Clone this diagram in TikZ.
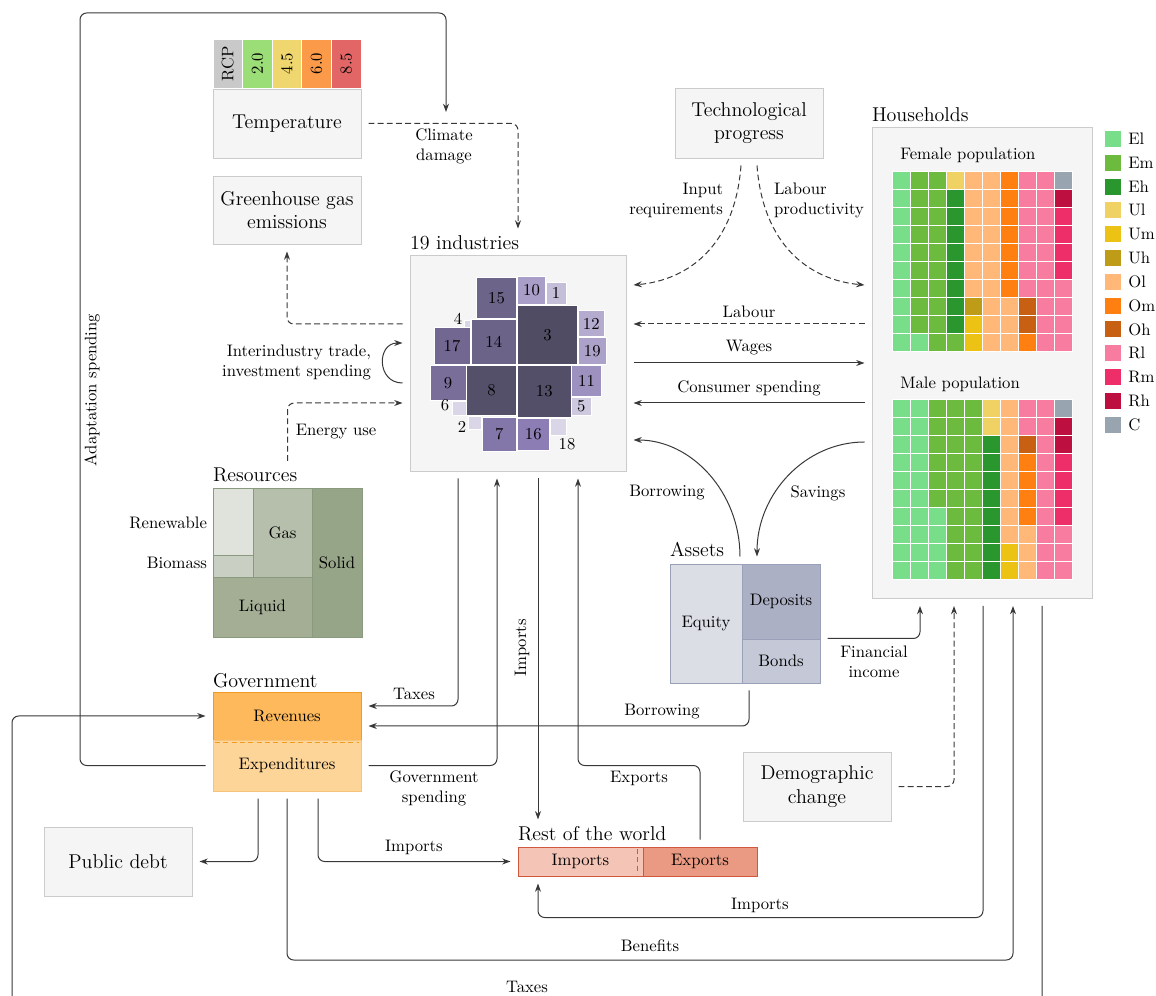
\documentclass[tikz,border=0pt]{standalone}
\usepackage{amsmath}
\usepackage{xcolor}
\usepackage{tikz}
\usetikzlibrary{arrows.meta,calc,positioning}

\definecolor{boxfill}{HTML}{F5F5F5}
\definecolor{boxline}{HTML}{CBCBCB}
\definecolor{flowcol}{HTML}{383838}
\definecolor{rcp0}{HTML}{C9C9C9}
\definecolor{rcp1}{HTML}{9BDD76}
\definecolor{rcp2}{HTML}{F0D66E}
\definecolor{rcp3}{HTML}{FB9B4A}
\definecolor{rcp4}{HTML}{E26666}
\definecolor{indA}{HTML}{504C64}
\definecolor{indB}{HTML}{8C7EB4}
\definecolor{resline}{HTML}{8A9A7E}
\definecolor{resren}{HTML}{DFE3DC}
\definecolor{resbio}{HTML}{C9D0C3}
\definecolor{resgas}{HTML}{B5BFAB}
\definecolor{resliq}{HTML}{A3AE95}
\definecolor{ressol}{HTML}{96A588}
\definecolor{assline}{HTML}{9AA0B8}
\definecolor{assequ}{HTML}{DCDEE6}
\definecolor{assdep}{HTML}{ABB0C5}
\definecolor{assbon}{HTML}{C5C9D7}
\definecolor{govline}{HTML}{F29A22}
\definecolor{govrev}{HTML}{FDB95B}
\definecolor{govexp}{HTML}{FDD598}
\definecolor{rowline}{HTML}{D0583E}
\definecolor{rowimp}{HTML}{F4C4B6}
\definecolor{rowexp}{HTML}{EA9A82}
\definecolor{cEl}{HTML}{78DE8A}
\definecolor{cEm}{HTML}{6CBA3E}
\definecolor{cEh}{HTML}{2A962E}
\definecolor{cUl}{HTML}{F0D264}
\definecolor{cUm}{HTML}{ECC214}
\definecolor{cUh}{HTML}{BE9C18}
\definecolor{cOl}{HTML}{FFB878}
\definecolor{cOm}{HTML}{FF7F10}
\definecolor{cOh}{HTML}{C86014}
\definecolor{cRl}{HTML}{F87CA0}
\definecolor{cRm}{HTML}{EE2E68}
\definecolor{cRh}{HTML}{BE1040}
\definecolor{cC}{HTML}{98A4B0}

\begin{document}
\begin{tikzpicture}[x=0.6pt,y=-0.6pt,
		box/.style={draw=boxline,fill=boxfill,font=\large,align=center,inner sep=0pt,outer sep=4.5pt},
		part/.style={align=center,inner sep=0pt,outer sep=4.5pt},
		ttl/.style={font=\large,anchor=base west,inner sep=0pt,outer xsep=0pt,outer ysep=4.5pt},
		lbl/.style={align=center,inner sep=1pt},
		cell/.style={draw=white,line width=0.5pt},
		flow/.style={draw=flowcol,line width=0.6pt,rounded corners=4pt,-{Stealth[length=5pt,width=3.6pt]}},
		dflow/.style={flow,dash pattern=on 3.5pt off 2pt}]

		\useasboundingbox (0,0) rectangle (1156,996);

		\foreach \lab/\col [count=\i] in {RCP/rcp0,2.0/rcp1,4.5/rcp2,6.0/rcp3,8.5/rcp4}
			\node[cell,fill=\col,rotate=90,minimum width=29.4pt,minimum height=17.8pt,inner sep=0pt] (rcp\i) at ({213+29.6*(\i-0.5)},63.5) {\lab};
		\node[box,minimum width=88.8pt,minimum height=41.4pt] (temp) at (287,123.5) {Temperature};
		\node[box,minimum width=88.8pt,minimum height=40.8pt] (ghg) at (287,210) {Greenhouse gas\\emissions};
		\node[box,minimum width=88.8pt,minimum height=42pt] (tech) at (749,123) {Technological\\progress};
		\node[box,minimum width=129.6pt,minimum height=129.6pt] (ind) at (518,363) {};
		\node[box,minimum width=132pt,minimum height=282.6pt] (hh) at (982,363) {};
		\node[box,minimum width=88.8pt,minimum height=41.4pt] (debt) at (118,861.5) {Public debt};
		\node[box,minimum width=88.8pt,minimum height=41.4pt] (demo) at (817,786.5) {Demographic\\change};

		\node[ttl] (indttl) at (410,250) {19 industries};
		\foreach \xa/\ya/\xb/\yb/\lab/\col in {476.5/277/516.5/318.5/15/indA!52!indB, 517.5/276.5/545.5/304/10/indB!75!white, 546/282.5/566/304/1/indB!50!white, 517.5/305/577.5/364.5/3/indA, 578.5/310.5/604/336.5/12/indB!65!white, 578.5/337.5/606/364.5/19/indB!72!white, 471/319.5/516.5/364.5/14/indA!55!indB, 434/327.5/470/364.5/17/indA!45!indB, 430/365.5/466/400/9/indA!32!indB, 466.5/365.5/516.5/415.5/8/indA!92!indB, 517.5/365.5/571/417.5/13/indA!95!indB, 571.5/365.5/601.5/396/11/indB!85!white, 571.5/397/591/415.5/5/indB!42!white, 482/417/516.5/451/7/indA!15!indB, 517.5/418.5/549/450/16/indB}
		{
			\filldraw[cell,fill=\col] (\xa,\ya) rectangle (\xb,\yb);
			\node (ind\lab) at ({(\xa+\xb)/2},{(\ya+\yb)/2}) {\lab};
		}
		\foreach \xa/\ya/\xb/\yb/\lab/\lx/\ly in {464/320/470.5/327.5/4/458/319, 452.5/401.5/466/415.5/6/445/405, 468.5/416.5/481.5/429/2/462/427, 550/418.5/566.5/435/18/567/444}
		{
			\filldraw[cell,fill=indB!32!white] (\xa,\ya) rectangle (\xb,\yb);
			\node (ind\lab) at (\lx,\ly) {\lab};
		}

		\node[ttl] (hhttl) at (872,122) {Households};
		\node[anchor=base west,inner sep=0pt] (lfem) at (900,160) {Female population};
		\foreach \hrow [count=\hr] in {{El,Em,Em,Ul,Ol,Ol,Om,Rl,Rl,C},{El,Em,Em,Eh,Ol,Ol,Om,Rl,Rl,Rh},{El,Em,Em,Eh,Ol,Ol,Om,Rl,Rl,Rm},{El,Em,Em,Eh,Ol,Ol,Om,Rl,Rl,Rm},{El,Em,Em,Eh,Ol,Ol,Om,Rl,Rl,Rm},{El,Em,Em,Eh,Ol,Ol,Om,Rl,Rl,Rm},{El,Em,Em,Eh,Ol,Ol,Om,Rl,Rl,Rl},{El,Em,Em,Eh,Uh,Ol,Ol,Oh,Rl,Rl},{El,Em,Em,Eh,Um,Ol,Ol,Oh,Rl,Rl},{El,El,Em,Em,Um,Ol,Ol,Om,Rl,Rl}}
			\foreach \hc [count=\hk] in \hrow
				\filldraw[cell,fill=c\hc] ({892+18*(\hk-1)},{171+18*(\hr-1)}) rectangle +(18,18);
		\node[anchor=base west,inner sep=0pt] (lmale) at (900,389) {Male population};
		\foreach \hrow [count=\hr] in {{El,El,Em,Em,Em,Ul,Ol,Rl,Rl,C},{El,El,Em,Em,Em,Ul,Ol,Rl,Rl,Rh},{El,El,Em,Em,Em,Eh,Ol,Oh,Rl,Rh},{El,El,Em,Em,Em,Eh,Ol,Om,Rl,Rm},{El,El,Em,Em,Em,Eh,Ol,Om,Rl,Rm},{El,El,Em,Em,Em,Eh,Ol,Om,Rl,Rm},{El,El,El,Em,Em,Eh,Ol,Om,Rl,Rm},{El,El,El,Em,Em,Eh,Ol,Ol,Rl,Rl},{El,El,El,Em,Em,Eh,Um,Ol,Rl,Rl},{El,El,El,Em,Em,Eh,Um,Ol,Rl,Rl}}
			\foreach \hc [count=\hk] in \hrow
				\filldraw[cell,fill=c\hc] ({892+18*(\hk-1)},{399+18*(\hr-1)}) rectangle +(18,18);
		\foreach \hc [count=\i] in {El,Em,Eh,Ul,Um,Uh,Ol,Om,Oh,Rl,Rm,Rh,C}
		{
			\fill[c\hc] (1105,{131+23.8*(\i-1)}) rectangle +(16,16);
			\node[anchor=west,inner sep=0pt] (leg\hc) at (1128,{139+23.8*(\i-1)}) {\hc};
		}

		\node[ttl] (resttl) at (213,482) {Resources};
		\node[part,minimum width=89.4pt,minimum height=89.4pt] (res) at (287.5,562.5) {};
		\node[part,draw=resline,fill=resren,minimum width=24pt,minimum height=40.2pt] (ren) at (233,521.5) {};
		\node[part,draw=resline,fill=resbio,minimum width=24pt,minimum height=13.2pt] (bio) at (233,566) {};
		\node[part,draw=resline,fill=resgas,minimum width=35.4pt,minimum height=53.4pt] (gas) at (282.5,532.5) {Gas};
		\node[part,draw=resline,fill=resliq,minimum width=59.4pt,minimum height=36pt] (liq) at (262.5,607) {Liquid};
		\node[part,draw=resline,fill=ressol,minimum width=30pt,minimum height=89.4pt] (sol) at (337,562.5) {Solid};
		\node[lbl,anchor=east] (lren) at (209,523) {Renewable};
		\node[lbl,anchor=east] (lbio) at (209,563) {Biomass};

		\node[ttl] (assttl) at (670,557) {Assets};
		\node[part,minimum width=90pt,minimum height=71.4pt] (assets) at (745,623.5) {};
		\node[part,draw=assline,fill=assequ,minimum width=43.2pt,minimum height=71.4pt] (equ) at (706,623.5) {Equity};
		\node[part,draw=assline,fill=assdep,minimum width=46.8pt,minimum height=45pt] (dep) at (781,601.5) {Deposits};
		\node[part,draw=assline,fill=assbon,minimum width=46.8pt,minimum height=26.4pt] (bon) at (781,661) {Bonds};

		\node[ttl] (govttl) at (213,687) {Government};
		\node[part,draw=govline,fill=govrev,minimum width=88.8pt,minimum height=28.8pt] (grev) at (287,716) {Revenues};
		\node[part,draw=govline!60,fill=govexp,minimum width=88.8pt,minimum height=30.6pt] (gexp) at (287,765.5) {Expenditures};
		\draw[govline,dash pattern=on 3pt off 2pt] (215,742.5) -- (359,742.5);

		\node[ttl] (rowttl) at (518,841) {Rest of the world};
		\node[part,draw=rowline,fill=rowimp,minimum width=75pt,minimum height=17.4pt] (wimp) at (580.5,861.5) {Imports};
		\node[part,draw=rowline,fill=rowexp,minimum width=68.4pt,minimum height=17.4pt] (wexp) at (700,861.5) {Exports};
		\draw[rowline,dash pattern=on 3pt off 2pt] (637,849) -- (637,874);

		\node[lbl] (lclim) at (444,146) {Climate\\damage};
		\node[lbl,anchor=east,align=right] (linput) at (725,200) {Input\\requirements};
		\node[lbl,anchor=west,align=left] (lprod) at (772,200) {Labour\\productivity};
		\node[lbl] (llab) at (749,312) {Labour};
		\node[lbl] (lwage) at (749,348) {Wages};
		\node[lbl] (lcons) at (749,388) {Consumer spending};
		\node[lbl,anchor=east,align=right] (linter) at (373,362) {Interindustry trade,\\investment spending};
		\node[lbl] (lenergy) at (336,432) {Energy use};
		\node[lbl] (lborr) at (667,493) {Borrowing};
		\node[lbl] (lsav) at (818,493) {Savings};
		\node[lbl,rotate=90] (limpv) at (522,648) {Imports};
		\node[lbl] (lfin) at (874,662) {Financial\\income};
		\node[lbl] (ltax) at (414,694) {Taxes};
		\node[lbl] (lgborr) at (662,712) {Borrowing};
		\node[lbl] (lgovsp) at (434,788) {Government\\spending};
		\node[lbl] (lexp) at (639,778) {Exports};
		\node[lbl] (lgimp) at (414,847) {Imports};
		\node[lbl] (lhimp) at (760,905) {Imports};
		\node[lbl] (lben) at (650,946) {Benefits};
		\node[lbl] (lhtax) at (527,987) {Taxes};
		\node[lbl,rotate=90] (ladapt) at (92,390) {Adaptation spending};

		\coordinate (imp) at ($(ind.south)+(20,0)$);
		\coordinate (adapt) at (446,112);

		\draw[dflow] (temp.east) -| (ind.north |- indttl.north);
		\draw[flow] (gexp.west) -| (80,13) -| (adapt);
		\draw[dflow] ($(ind.west)+(0,-39)$) -| (ghg.south);
		\draw[flow] ($(ind.west)+(0,20)$) .. controls +(-26,0) and +(-26,0) .. ($(ind.west)+(0,-20)$);
		\draw[dflow] (res.north |- resttl.north) |- ($(ind.west)+(0,40)$);
		\draw[dflow] ($(tech.south)+(-8,0)$) .. controls +(-6,80) and +(55,-5) .. ($(ind.east)+(0,-78)$);
		\draw[dflow] ($(tech.south)+(8,0)$) .. controls +(6,80) and +(-55,-5) .. ($(hh.west)+(0,-78)$);
		\draw[dflow] ($(hh.west)+(0,-39)$) -- ($(ind.east)+(0,-39)$);
		\draw[flow] (ind.east) -- (hh.west);
		\draw[flow] ($(hh.west)+(0,40)$) -- ($(ind.east)+(0,40)$);
		\draw[flow] ($(assets.north)+(-5,0)$) .. controls +(0,-64) and +(58,0) .. ($(ind.east)+(0,77)$);
		\draw[flow] ($(hh.west)+(0,79)$) .. controls +(-59,0) and +(0,-63) .. ($(assets.north)+(12,0)$);
		\draw[flow] ($(ind.south)+(-60,0)$) |- ($(grev.east)+(0,-10)$);
		\draw[flow] (gexp.east) -| ($(ind.south)+(-21,0)$);
		\draw[flow] (imp) -- (imp |- rowttl.north);
		\draw[flow] (wexp.north) |- ($(gexp.east -| ind.south)+(60,0)$) -- ($(ind.south)+(60,0)$);
		\draw[flow] ($(assets.east)+(0,15)$) -| ($(hh.south)+(-62,0)$);
		\draw[flow] ($(assets.south)+(4,0)$) |- ($(grev.east)+(0,10)$);
		\draw[dflow] (demo.east) -| ($(hh.south)+(-28,0)$);
		\draw[flow] ($(hh.south)+(1,0)$) |- ($(imp |- wimp.south)+(0,34)$) -- (imp |- wimp.south);
		\draw[flow] (gexp.south) |- (1013,960) -- ($(hh.south)+(31,0)$);
		\draw[flow] ($(hh.south)+(60,0)$) |- (12,1003) |- (grev.west);
		\draw[flow] ($(gexp.south)+(-29,0)$) |- (debt.east);
		\draw[flow] ($(gexp.south)+(31,0)$) |- (wimp.west);
		\end{tikzpicture}
\end{document}
